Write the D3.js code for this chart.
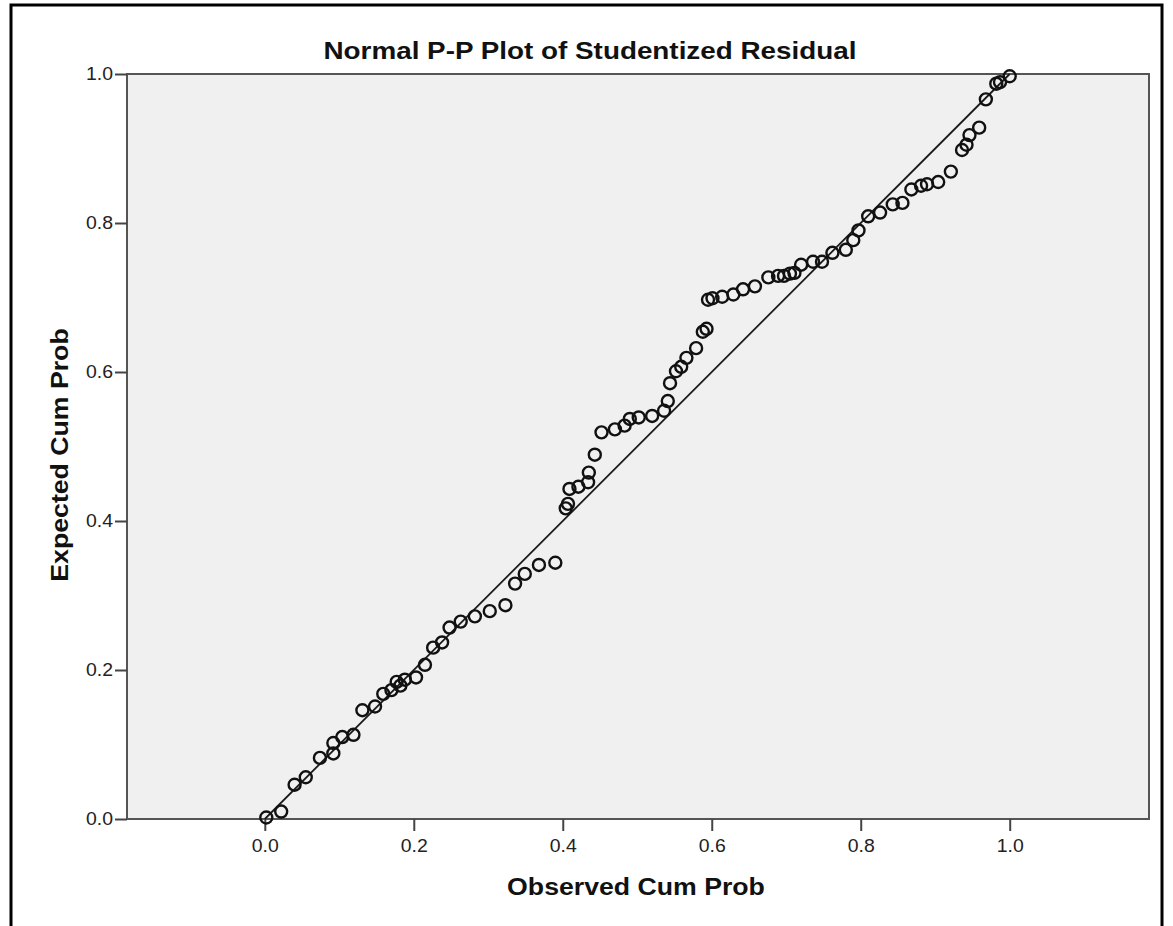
<!DOCTYPE html>
<html>
<head>
<meta charset="utf-8">
<style>
  body { margin: 0; background: #fff; }
  text { font-family: "Liberation Sans", Arial, sans-serif; }
</style>
</head>
<body>
<svg id="chart" width="1173" height="926"></svg>

<script src="https://d3js.org/d3.v7.min.js"></script>
<script>
  // Observed cumulative probability (x) for each residual
  const observed = [
    0.002, 0.022, 0.040, 0.055, 0.074, 0.092, 0.092, 0.104, 0.119, 0.131,
    0.148, 0.159, 0.170, 0.177, 0.182, 0.188, 0.203, 0.215, 0.226, 0.238,
    0.248, 0.263, 0.282, 0.302, 0.323, 0.336, 0.349, 0.368, 0.390, 0.404,
    0.407, 0.409, 0.421, 0.434, 0.435, 0.443, 0.452, 0.470, 0.483, 0.490,
    0.502, 0.520, 0.536, 0.541, 0.544, 0.552, 0.559, 0.566, 0.579, 0.588,
    0.593, 0.595, 0.601, 0.614, 0.629, 0.642, 0.658, 0.676, 0.689, 0.697,
    0.705, 0.711, 0.720, 0.736, 0.748, 0.762, 0.780, 0.790, 0.797, 0.810,
    0.826, 0.843, 0.856, 0.868, 0.881, 0.889, 0.904, 0.921, 0.936, 0.942,
    0.946, 0.959, 0.968, 0.982, 0.987, 1.000
  ]
  // Expected cumulative probability (y)
  const expected = [
    0.002, 0.010, 0.046, 0.056, 0.082, 0.088, 0.102, 0.110, 0.113, 0.146,
    0.151, 0.168, 0.173, 0.184, 0.179, 0.187, 0.190, 0.207, 0.230, 0.237,
    0.257, 0.265, 0.272, 0.279, 0.287, 0.316, 0.329, 0.341, 0.344, 0.417,
    0.423, 0.443, 0.446, 0.452, 0.465, 0.489, 0.519, 0.523, 0.528, 0.537,
    0.539, 0.541, 0.548, 0.561, 0.585, 0.601, 0.607, 0.619, 0.632, 0.654,
    0.658, 0.697, 0.699, 0.701, 0.704, 0.711, 0.715, 0.727, 0.729, 0.729,
    0.732, 0.733, 0.744, 0.748, 0.748, 0.760, 0.764, 0.777, 0.790, 0.809,
    0.814, 0.825, 0.827, 0.845, 0.850, 0.852, 0.855, 0.869, 0.898, 0.905,
    0.918, 0.928, 0.966, 0.987, 0.989, 0.997
  ]
  const tickValues = [0.0, 0.2, 0.4, 0.6, 0.8, 1.0]
  const titleText = 'Normal P-P Plot of Studentized Residual'
  const xTitle = 'Observed Cum Prob'
  const yTitle = 'Expected Cum Prob'

  const points = observed.map((v, i) => ({ obs: v, exp: expected[i] }))

  const svg = d3.select('#chart')
  const plotLeft = 127, plotRight = 1149, plotTop = 74, plotBottom = 819
  const sx = 1.16  // titles in the original are drawn a little wide
  const tsx = 1.08 // same for tick labels

  // outer frame
  svg.append('rect')
    .attr('x', 11).attr('y', 5)
    .attr('width', 1151).attr('height', 940)
    .attr('fill', 'none').attr('stroke', '#000').attr('stroke-width', 3)

  const x = d3.scaleLinear().domain([-0.185, 1.187]).range([plotLeft, plotRight])
  const y = d3.scaleLinear().domain([0, 1]).range([plotBottom, plotTop])

  // plot area
  svg.append('rect')
    .attr('x', plotLeft).attr('y', plotTop)
    .attr('width', plotRight - plotLeft).attr('height', plotBottom - plotTop)
    .attr('fill', '#f0f0f0').attr('stroke', '#555').attr('stroke-width', 2)

  // x axis
  const xAxis = svg.append('g')
    .attr('transform', `translate(0,${plotBottom})`)
    .call(d3.axisBottom(x).tickValues(tickValues).tickSize(12).tickPadding(8).tickFormat(d3.format('.1f')))
  xAxis.select('.domain').remove()
  xAxis.selectAll('line').attr('stroke', '#444').attr('stroke-width', 2)
  xAxis.selectAll('text')
    .attr('font-size', 18).attr('fill', '#222')
    .attr('font-family', '"Liberation Sans", Arial, sans-serif')
    .attr('transform', `scale(${tsx},1)`)

  // y axis
  const yAxis = svg.append('g')
    .attr('transform', `translate(${plotLeft},0)`)
    .call(d3.axisLeft(y).tickValues(tickValues).tickSize(12).tickFormat(d3.format('.1f')))
  yAxis.select('.domain').remove()
  yAxis.selectAll('line').attr('stroke', '#444').attr('stroke-width', 2)
  yAxis.selectAll('text')
    .attr('font-size', 18).attr('fill', '#222')
    .attr('font-family', '"Liberation Sans", Arial, sans-serif')
    .attr('x', -14 / tsx)
    .attr('transform', `scale(${tsx},1)`)

  // reference diagonal
  svg.append('line')
    .attr('x1', x(0)).attr('y1', y(0))
    .attr('x2', x(1)).attr('y2', y(1))
    .attr('stroke', '#1a1a1a').attr('stroke-width', 1.8)

  // points
  svg.append('g')
    .selectAll('circle')
    .data(points)
    .enter()
    .append('circle')
    .attr('cx', d => x(d.obs))
    .attr('cy', d => y(d.exp))
    .attr('r', 6)
    .attr('fill', 'none')
    .attr('stroke', '#111')
    .attr('stroke-width', 2.4)

  // titles
  svg.append('text')
    .attr('transform', `translate(590,59) scale(${sx},1)`)
    .attr('text-anchor', 'middle')
    .attr('font-size', 24).attr('font-weight', 'bold').attr('fill', '#111')
    .text(titleText)

  svg.append('text')
    .attr('transform', `translate(636,895) scale(${sx},1)`)
    .attr('text-anchor', 'middle')
    .attr('font-size', 23).attr('font-weight', 'bold').attr('fill', '#111')
    .text(xTitle)

  svg.append('text')
    .attr('transform', `translate(68,455) rotate(-90) scale(${sx},1)`)
    .attr('text-anchor', 'middle')
    .attr('font-size', 23).attr('font-weight', 'bold').attr('fill', '#111')
    .text(yTitle)
</script>
</body>
</html>
